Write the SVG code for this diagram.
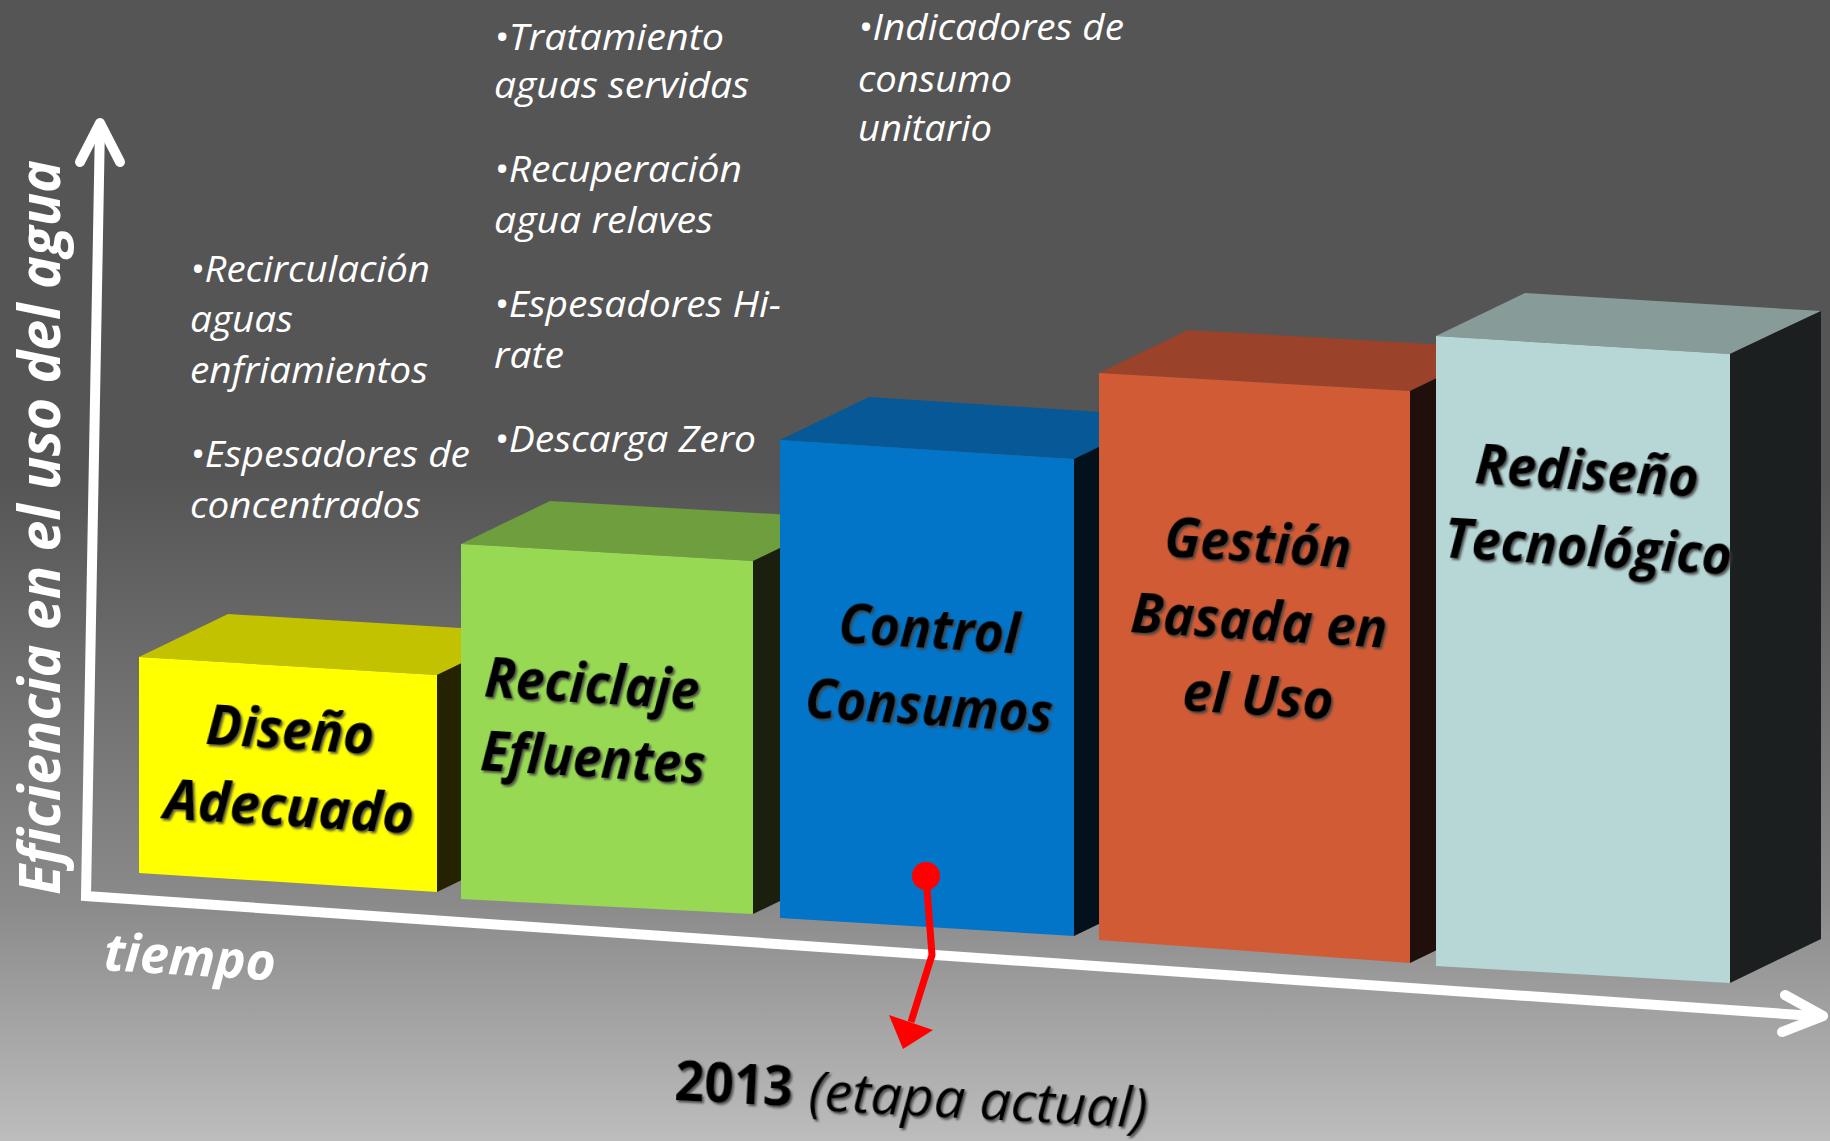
<svg xmlns="http://www.w3.org/2000/svg" width="1830" height="1141" viewBox="0 0 1830 1141">
<defs>
<linearGradient id="bg" x1="0" y1="0" x2="0" y2="1">
<stop offset="0" stop-color="#555555"/>
<stop offset="0.42" stop-color="#555555"/>
<stop offset="0.79" stop-color="#8a8a8a"/>
<stop offset="1" stop-color="#bdbdbd"/>
</linearGradient>
<filter id="sh" x="-10%" y="-20%" width="120%" height="140%">
<feDropShadow dx="2" dy="2" stdDeviation="1.2" flood-color="#404040" flood-opacity="0.85"/>
</filter>
</defs>
<style>
.lbl{font-family:"Open Sans","Liberation Sans",sans-serif;font-weight:bold;font-style:italic;font-size:55px;fill:#000;text-anchor:middle;filter:url(#sh)}
.bul{font-family:"Open Sans","Liberation Sans",sans-serif;font-style:italic;font-size:36px;fill:#fff}
.axlbl{font-family:"Open Sans","Liberation Sans",sans-serif;font-weight:bold;font-style:italic;fill:#fff}
.axis{fill:none;stroke:#fff;stroke-width:10}
.chev{fill:none;stroke:#fff;stroke-width:10;stroke-linecap:round;stroke-linejoin:round}
</style>
<rect x="0" y="0" width="1830" height="1141" fill="url(#bg)"/>

<g id="connectors">
<polyline class="axis" points="100,124 86,896 1815,1016" stroke-linejoin="miter"/>
<polyline class="chev" points="80,162 100,123 120,162"/>
<polyline class="chev" points="1785,995 1823,1016 1782,1032"/>
</g>

<g id="axis-labels">
<text class="axlbl" font-size="58" transform="translate(60,895) rotate(-90)" textLength="735" lengthAdjust="spacingAndGlyphs">Eficiencia en el uso del agua</text>
<text class="axlbl" font-size="52" x="103" y="970" transform="rotate(3.5 103 970)" textLength="172" lengthAdjust="spacingAndGlyphs">tiempo</text>
</g>

<g id="box-diseno">
<polygon points="139,657 228,614 526,632 437,675" fill="#c2c200"/>
<polygon points="437,675 526,632 526,849 437,892" fill="#242200"/>
<polygon points="139,657 437,675 437,892 139,873" fill="#ffff00"/>
<text class="lbl" x="289" y="749" transform="rotate(3.5 289 749)" textLength="168" lengthAdjust="spacingAndGlyphs">Diseño</text>
<text class="lbl" x="288" y="826" transform="rotate(3.5 288 826)" textLength="250" lengthAdjust="spacingAndGlyphs">Adecuado</text>
</g>

<g id="box-reciclaje">
<polygon points="461,544 550,501 842,518 753,561" fill="#6f9e3e"/>
<polygon points="753,561 842,518 842,871 753,914" fill="#1a1f0e"/>
<polygon points="461,544 753,561 753,914 461,899" fill="#98d954"/>
<text class="lbl" x="591" y="703" transform="rotate(3.5 591 703)" textLength="215" lengthAdjust="spacingAndGlyphs">Reciclaje</text>
<text class="lbl" x="592" y="777" transform="rotate(3.5 592 777)" textLength="225" lengthAdjust="spacingAndGlyphs">Efluentes</text>
</g>

<g id="box-control">
<polygon points="780,440 869,397 1163,416 1074,459" fill="#065896"/>
<polygon points="1074,459 1163,416 1163,893 1074,936" fill="#03111c"/>
<polygon points="780,440 1074,459 1074,936 780,918" fill="#0275c9"/>
<text class="lbl" x="928" y="648" transform="rotate(3.5 928 648)" textLength="181" lengthAdjust="spacingAndGlyphs">Control</text>
<text class="lbl" x="928" y="725" transform="rotate(3.5 928 725)" textLength="248" lengthAdjust="spacingAndGlyphs">Consumos</text>
</g>

<g id="box-gestion">
<polygon points="1099,373 1188,330 1499,348 1410,391" fill="#9a422a"/>
<polygon points="1410,391 1499,348 1499,920 1410,963" fill="#200f0b"/>
<polygon points="1099,373 1410,391 1410,963 1099,940" fill="#d15b35"/>
<text class="lbl" x="1257" y="562" transform="rotate(3.5 1257 562)" textLength="187" lengthAdjust="spacingAndGlyphs">Gestión</text>
<text class="lbl" x="1258" y="640" transform="rotate(3.5 1258 640)" textLength="257" lengthAdjust="spacingAndGlyphs">Basada en</text>
<text class="lbl" x="1257" y="715" transform="rotate(3.5 1257 715)" textLength="151" lengthAdjust="spacingAndGlyphs">el Uso</text>
</g>

<g id="box-rediseno">
<polygon points="1436,336 1525,293 1821,311 1730,354" fill="#879b99"/>
<polygon points="1730,354 1821,311 1821,939 1730,983" fill="#1b1f20"/>
<polygon points="1436,336 1730,354 1730,983 1436,966" fill="#b7d6d6"/>
<text class="lbl" x="1586" y="490" transform="rotate(3.5 1586 490)" textLength="224" lengthAdjust="spacingAndGlyphs">Rediseño</text>
<text class="lbl" x="1587" y="566" transform="rotate(3.5 1587 566)" textLength="288" lengthAdjust="spacingAndGlyphs">Tecnológico</text>
</g>

<g id="notes-diseno">
<text class="bul" x="190" y="282" textLength="240" lengthAdjust="spacingAndGlyphs">•Recirculación</text>
<text class="bul" x="190" y="332" textLength="103" lengthAdjust="spacingAndGlyphs">aguas</text>
<text class="bul" x="190" y="383" textLength="238" lengthAdjust="spacingAndGlyphs">enfriamientos</text>
<text class="bul" x="190" y="467" textLength="280" lengthAdjust="spacingAndGlyphs">•Espesadores de</text>
<text class="bul" x="190" y="518" textLength="231" lengthAdjust="spacingAndGlyphs">concentrados</text>
</g>

<g id="notes-reciclaje">
<text class="bul" x="494" y="50" textLength="230" lengthAdjust="spacingAndGlyphs">•Tratamiento</text>
<text class="bul" x="494" y="98" textLength="255" lengthAdjust="spacingAndGlyphs">aguas servidas</text>
<text class="bul" x="494" y="182" textLength="248" lengthAdjust="spacingAndGlyphs">•Recuperación</text>
<text class="bul" x="494" y="233" textLength="219" lengthAdjust="spacingAndGlyphs">agua relaves</text>
<text class="bul" x="494" y="317" textLength="287" lengthAdjust="spacingAndGlyphs">•Espesadores Hi-</text>
<text class="bul" x="494" y="368" textLength="70" lengthAdjust="spacingAndGlyphs">rate</text>
<text class="bul" x="494" y="452" textLength="262" lengthAdjust="spacingAndGlyphs">•Descarga Zero</text>
</g>

<g id="notes-control">
<text class="bul" x="858" y="40" textLength="266" lengthAdjust="spacingAndGlyphs">•Indicadores de</text>
<text class="bul" x="858" y="92" textLength="154" lengthAdjust="spacingAndGlyphs">consumo</text>
<text class="bul" x="858" y="141" textLength="134" lengthAdjust="spacingAndGlyphs">unitario</text>
</g>

<g id="pointer">
<polyline points="926,876 932,955 911,1022" fill="none" stroke="#ff0000" stroke-width="7" stroke-linejoin="round"/>
<circle cx="926" cy="876" r="14" fill="#ff0000"/>
<polygon points="889,1015 933,1030 903,1049" fill="#ff0000"/>
</g>

<g id="current-stage">
<text x="674" y="1100" transform="rotate(3 674 1100)" font-family="Open Sans, Liberation Sans, sans-serif" font-weight="bold" font-size="55" fill="#000" filter="url(#sh)" textLength="118" lengthAdjust="spacingAndGlyphs">2013</text>
<text x="808" y="1110" transform="rotate(3 808 1110)" font-family="Open Sans, Liberation Sans, sans-serif" font-style="italic" font-size="55" fill="#000" filter="url(#sh)" textLength="339" lengthAdjust="spacingAndGlyphs">(etapa actual)</text>
</g>
</svg>
